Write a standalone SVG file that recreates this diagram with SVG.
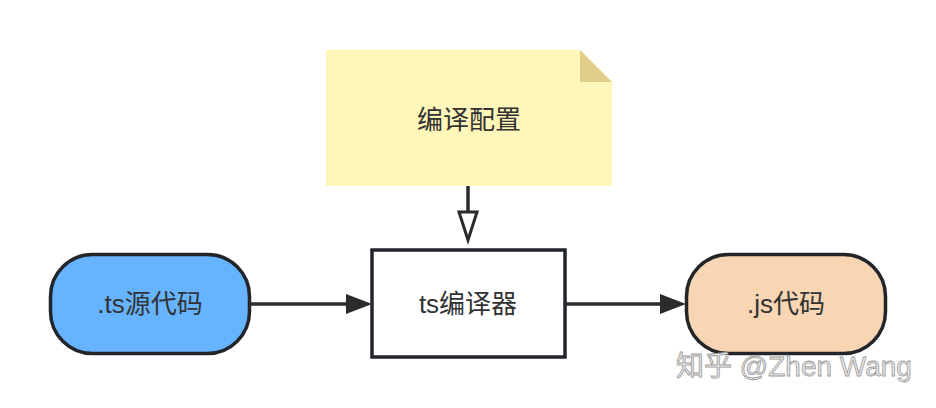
<svg xmlns="http://www.w3.org/2000/svg" width="936" height="408" viewBox="0 0 936 408">
<defs>
<style>
.lbl{font-family:"Liberation Sans","Noto Sans CJK SC",sans-serif;font-size:26px;fill:#333;text-anchor:middle;dominant-baseline:central}
.edge{stroke:#2b2b2b;stroke-width:3.5;fill:none}
.node{stroke:#22262b;stroke-width:3.5}
</style>
</defs>
<rect width="936" height="408" fill="#fff"/>
<g id="note">
<path d="M326,50 H580 L612,82 V186 H326 Z" fill="#fff6b9"/>
<path d="M580,50 L612,82 H580 Z" fill="#e3cd8a"/>
<text class="lbl" x="469" y="120">编译配置</text>
</g>
<g id="compiler">
<rect class="node" x="372" y="250" width="193" height="107" fill="#fff"/>
<text class="lbl" x="468" y="304">ts编译器</text>
</g>
<g id="tsSource">
<rect class="node" x="50.5" y="254.5" width="199" height="99" rx="42" fill="#66b3ff"/>
<text class="lbl" x="150" y="304">.ts源代码</text>
</g>
<g id="jsCode">
<rect class="node" x="686.5" y="254.5" width="199" height="99" rx="42" fill="#f8d6b4"/>
<text class="lbl" x="786" y="304">.js代码</text>
</g>
<g id="connectors">
<path class="edge" d="M468,186 V212"/>
<path d="M459,212 H477 L468,240 Z" fill="#fff" stroke="#2b2b2b" stroke-width="3"/>
<path class="edge" d="M250,304 H356"/>
<path d="M346,294 L372,304 L346,314 Z" fill="#2b2b2b"/>
<path class="edge" d="M565,304 H670"/>
<path d="M660,294 L686,304 L660,314 Z" fill="#2b2b2b"/>
</g>
<text x="794" y="366" font-family="Liberation Sans,'Noto Sans CJK SC',sans-serif" font-size="28" fill="#e8e8e8" stroke="#9a9a9a" stroke-width="0.8" text-anchor="middle" dominant-baseline="central">知乎 @Zhen Wang</text>
</svg>
